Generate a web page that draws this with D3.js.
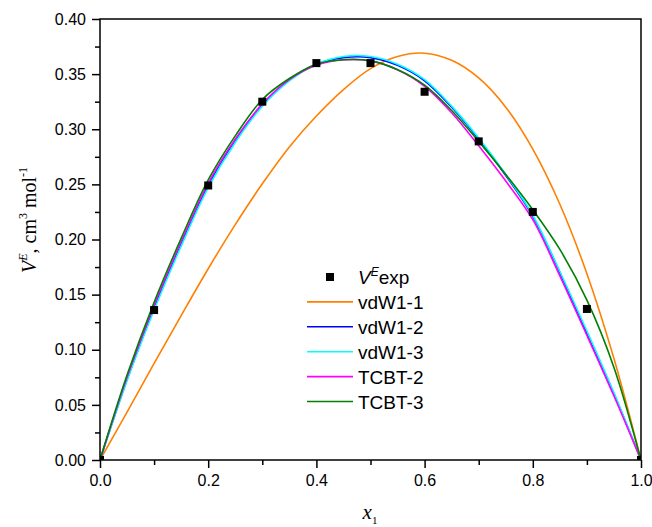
<!DOCTYPE html>
<html>
<head>
<meta charset="utf-8">
<script src="https://cdn.jsdelivr.net/npm/d3@7"></script>
<style>
  html, body { margin: 0; padding: 0; background: #fff; }
  svg { display: block; }
</style>
</head>
<body>
<svg id="chart" width="652" height="527"></svg>
<script>
// ---------- data ----------
const xGrid = [0, 0.05, 0.1, 0.15, 0.2, 0.25, 0.3, 0.35, 0.4, 0.45, 0.5, 0.55, 0.6, 0.65, 0.7, 0.75, 0.8, 0.85, 0.9, 0.95, 1.0];
const vdW1_1 = [0, 0.0435, 0.0876, 0.131, 0.1735, 0.2135, 0.2505, 0.284, 0.312, 0.336, 0.355, 0.366, 0.369, 0.3625, 0.3465, 0.320, 0.282, 0.232, 0.169, 0.092, 0];
const vdW1_2 = [0, 0.073, 0.138, 0.196, 0.249, 0.290, 0.322, 0.345, 0.359, 0.365, 0.365, 0.358, 0.344, 0.320, 0.291, 0.258, 0.221, 0.170, 0.115, 0.060, 0];
const vdW1_3 = [0, 0.072, 0.136, 0.194, 0.247, 0.288, 0.321, 0.344, 0.359, 0.366, 0.366, 0.359, 0.345, 0.321, 0.292, 0.259, 0.222, 0.171, 0.117, 0.061, 0];
const TCBT_2 = [0, 0.075, 0.140, 0.198, 0.251, 0.291, 0.323, 0.345, 0.358, 0.363, 0.362, 0.354, 0.339, 0.315, 0.285, 0.253, 0.218, 0.167, 0.113, 0.058, 0];
const TCBT_3 = [0, 0.077, 0.143, 0.201, 0.254, 0.294, 0.327, 0.346, 0.359, 0.363, 0.362, 0.354, 0.340, 0.317, 0.289, 0.259, 0.227, 0.191, 0.145, 0.084, 0];
const expX = [0, 0.1, 0.2, 0.3, 0.4, 0.5, 0.6, 0.7, 0.8, 0.9, 1.0];
const expV = [0, 0.136, 0.249, 0.325, 0.360, 0.360, 0.334, 0.289, 0.225, 0.137, 0];
const seriesNames = ["vdW1-1", "vdW1-2", "vdW1-3", "TCBT-2", "TCBT-3"];
const seriesColors = ["#ff8000", "#0000ff", "#00ffff", "#ff00ff", "#008000"];
const xTicks = [0, 0.2, 0.4, 0.6, 0.8, 1.0];
const xMinor = [0.1, 0.3, 0.5, 0.7, 0.9];
const yTicks = [0, 0.05, 0.10, 0.15, 0.20, 0.25, 0.30, 0.35, 0.40];
const yMinor = [0.025, 0.075, 0.125, 0.175, 0.225, 0.275, 0.325, 0.375];

// ---------- layout ----------
const svg = d3.select("#chart");
const L = 100, R = 641, T = 19, B = 460;
const x = d3.scaleLinear().domain([0, 1]).range([L, R]);
const y = d3.scaleLinear().domain([0, 0.4]).range([B, T]);
const tickFont = "'Liberation Sans', Arial, sans-serif";
const serif = "'Liberation Serif', 'Times New Roman', serif";

svg.append("rect").attr("width", 652).attr("height", 527).attr("fill", "#fff");

svg.append("defs").append("clipPath").attr("id", "clip")
  .append("rect").attr("x", L).attr("y", T).attr("width", R - L).attr("height", B - T);

// series lines
const allSeries = [vdW1_1, vdW1_2, vdW1_3, TCBT_2, TCBT_3];
const line = d3.line()
  .x((d, i) => x(xGrid[i]))
  .y(d => y(d))
  .curve(d3.curveCatmullRom.alpha(0.5));
const gLines = svg.append("g").attr("clip-path", "url(#clip)");
allSeries.forEach((s, k) => {
  gLines.append("path")
    .attr("d", line(s))
    .attr("fill", "none")
    .attr("stroke", seriesColors[k])
    .attr("stroke-width", 1.6);
});

// experimental points
const ms = 8;
svg.append("g").attr("clip-path", "url(#clip)")
  .selectAll("rect").data(expX).join("rect")
  .attr("x", (d) => x(d) - ms / 2)
  .attr("y", (d, i) => y(expV[i]) - ms / 2)
  .attr("width", ms).attr("height", ms)
  .attr("fill", "#000");

// axes
const xAxis = svg.append("g").attr("transform", `translate(0,${B})`)
  .call(d3.axisBottom(x).tickValues(xTicks).tickFormat(d3.format(".1f")).tickSize(8).tickPadding(7));
const xAxisMinor = svg.append("g").attr("transform", `translate(0,${B})`)
  .call(d3.axisBottom(x).tickValues(xMinor).tickFormat("").tickSize(5));
const yAxis = svg.append("g").attr("transform", `translate(${L},0)`)
  .call(d3.axisLeft(y).tickValues(yTicks).tickFormat(d3.format(".2f")).tickSize(8).tickPadding(6));
const yAxisMinor = svg.append("g").attr("transform", `translate(${L},0)`)
  .call(d3.axisLeft(y).tickValues(yMinor).tickFormat("").tickSize(5));
[xAxis, xAxisMinor, yAxis, yAxisMinor].forEach(g => {
  g.select(".domain").remove();
  g.selectAll(".tick line").attr("stroke", "#000").attr("stroke-width", 1.5);
  g.selectAll(".tick text").attr("font-family", tickFont).attr("font-size", 16).attr("fill", "#000");
});

// frame
svg.append("rect").attr("x", L).attr("y", T).attr("width", R - L).attr("height", B - T)
  .attr("fill", "none").attr("stroke", "#000").attr("stroke-width", 1.5);

// axis titles
const xt = svg.append("text").attr("x", 370).attr("y", 519)
  .attr("font-family", serif).attr("font-size", 21).attr("text-anchor", "middle");
xt.append("tspan").attr("font-style", "italic").text("x");
xt.append("tspan").attr("font-size", 11).attr("dy", 5).text("1");

const yt = svg.append("text")
  .attr("transform", "translate(36,220) rotate(-90)")
  .attr("font-family", serif).attr("font-size", 20).attr("text-anchor", "middle");
yt.append("tspan").attr("font-style", "italic").text("V");
yt.append("tspan").attr("font-style", "italic").attr("font-size", 12).attr("dy", -9).text("E");
yt.append("tspan").attr("dy", 9).text(", cm");
yt.append("tspan").attr("font-size", 12).attr("dy", -9).text("3");
yt.append("tspan").attr("dy", 9).text(" mol");
yt.append("tspan").attr("font-size", 12).attr("dy", -9).text("-1");

// legend
const lgX = 307, lgLen = 46, lgTextX = 358, lgY0 = 277, lgDy = 24.9;
const lg = svg.append("g");
lg.append("rect").attr("x", 330 - ms / 2).attr("y", lgY0 - ms / 2).attr("width", ms).attr("height", ms).attr("fill", "#000");
const t0 = lg.append("text").attr("x", lgTextX).attr("y", lgY0 + 7)
  .attr("font-family", tickFont).attr("font-size", 19);
t0.append("tspan").attr("font-style", "italic").text("V");
t0.append("tspan").attr("font-style", "italic").attr("font-size", 12).attr("dy", -8).text("E");
t0.append("tspan").attr("dy", 8).text("exp");
seriesNames.forEach((n, k) => {
  const yy = lgY0 + (k + 1) * lgDy;
  lg.append("line").attr("x1", lgX).attr("x2", lgX + lgLen).attr("y1", yy).attr("y2", yy)
    .attr("stroke", seriesColors[k]).attr("stroke-width", 1.6);
  lg.append("text").attr("x", lgTextX).attr("y", yy + 7)
    .attr("font-family", tickFont).attr("font-size", 19).text(n);
});
</script>
</body>
</html>
